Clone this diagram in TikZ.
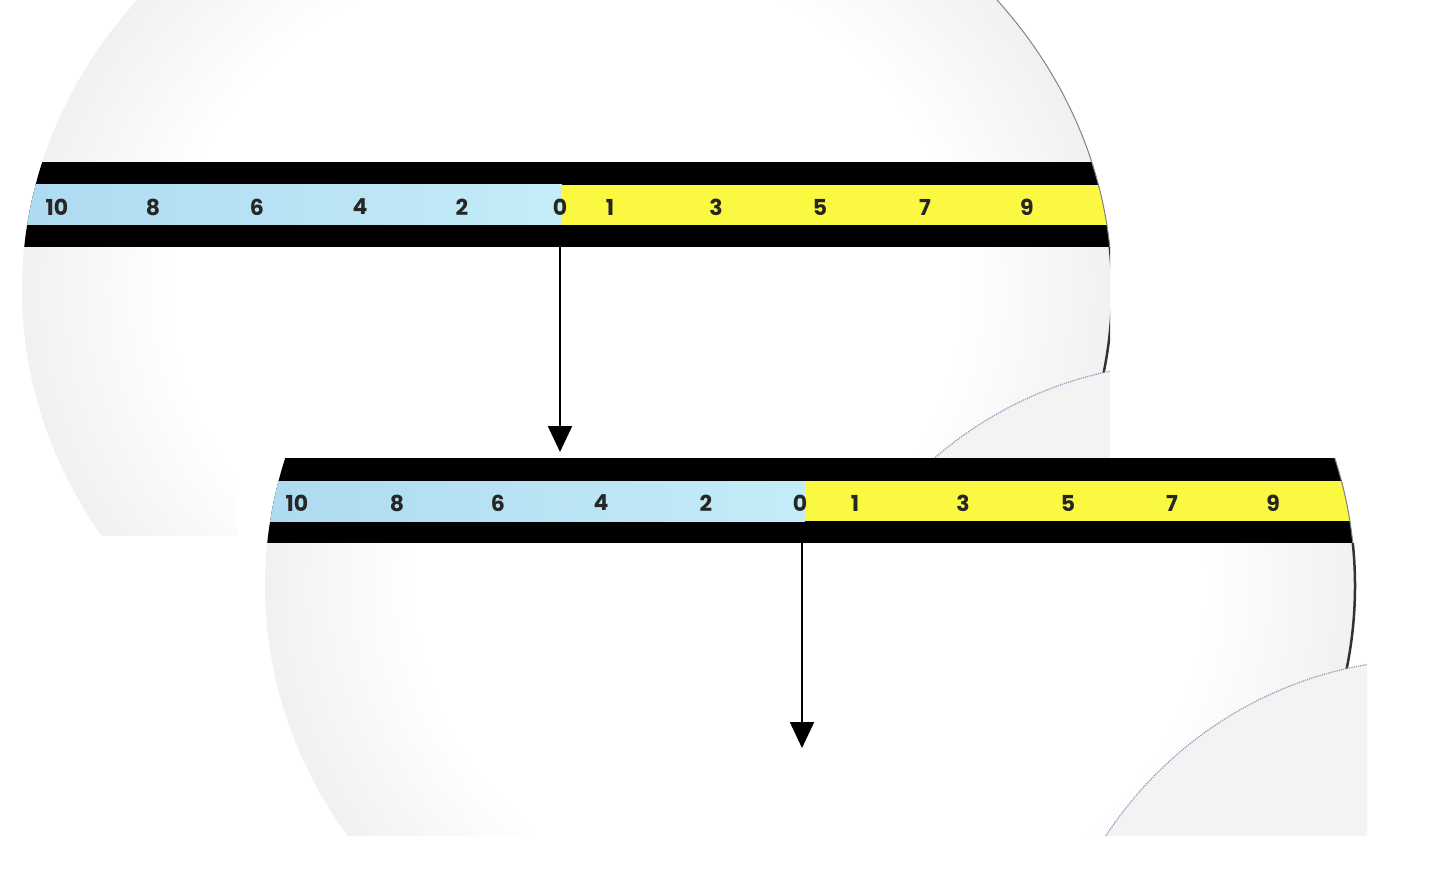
\documentclass[tikz,border=0pt]{standalone}
\usepackage{fontspec}
\setsansfont{Poppins}
\usetikzlibrary{arrows.meta}
\definecolor{barblue}{RGB}{196,236,248}
\definecolor{barblueL}{RGB}{172,218,240}
\definecolor{baryellow}{RGB}{250,248,64}
\definecolor{rimgray}{RGB}{130,130,140}
\definecolor{cornergray}{RGB}{243,243,243}
\definecolor{corneredge}{RGB}{150,150,185}
\pgfdeclareradialshading{discshade}{\pgfpoint{0bp}{0bp}}{color(0bp)=(white); color(18bp)=(white); color(25bp)=(gray!11); color(50bp)=(gray!11)}
\newcommand\panelcontent{%
  \shade[shading=discshade] (567,290) ellipse [x radius=545pt, y radius=472pt];
  \begin{scope}
    \clip (567,290) ellipse [x radius=545pt, y radius=472pt];
    \fill[black] (0,162) rectangle (1200,247);
    \shade[left color=barblueL, right color=barblue] (0,185) rectangle (562,225);
    \fill[baryellow] (562,185) rectangle (1200,225);
  \end{scope}
  \begin{scope}
    \clip (900,-10) rectangle (1200,247);
    \draw[rimgray, line width=1pt] (567,290) ellipse [x radius=545pt, y radius=472pt];
  \end{scope}
  \begin{scope}
    \clip (1000,247) rectangle (1200,372);
    \draw[black!80, line width=2.5pt] (567,290) ellipse [x radius=545pt, y radius=472pt];
  \end{scope}
  \fill[cornergray] (1190,754) circle [radius=391pt];
  \draw[corneredge, densely dotted, line width=1.2pt] (1190,754) circle [radius=391pt];
}
\begin{document}
\begin{tikzpicture}[x=1pt,y=-1pt,
  num/.style={font=\sffamily\bfseries\fontsize{22}{22}\selectfont, text=black!85, inner sep=0pt, anchor=center},
  arr/.style={line width=2.2pt, -{Triangle[width=24pt,length=26pt]}}]
\useasboundingbox (0,0) rectangle (1440,869);
\fill[white] (0,0) rectangle (1440,869);
% top panel
\begin{scope}
  \clip (0,0) rectangle (1110,535);
  \panelcontent
\end{scope}
% lower panel
\begin{scope}[shift={(243,296)}]
  \fill[white] (-6,162) rectangle (1124,539);
  \clip (-6,162) rectangle (1124,539);
  \panelcontent
\end{scope}
% top numbers
\foreach \t/\x in {10/57,8/153,6/257,4/360,2/462,0/560,1/610,3/716,5/820,7/925,9/1027}
  \node[num] (ta\t) at (\x,207) {\t};
% lower numbers
\foreach \t/\x in {10/297,8/397,6/498,4/601,2/706,0/800,1/855,3/963,5/1068,7/1172,9/1273}
  \node[num] (tb\t) at (\x,503) {\t};
% arrows
\coordinate (a1s) at (560,247);
\coordinate (a1e) at (560,452);
\coordinate (a2s) at (802,543);
\coordinate (a2e) at (802,748);
\draw[arr] (a1s) -- (a1e);
\draw[arr] (a2s) -- (a2e);
\end{tikzpicture}
\end{document}
